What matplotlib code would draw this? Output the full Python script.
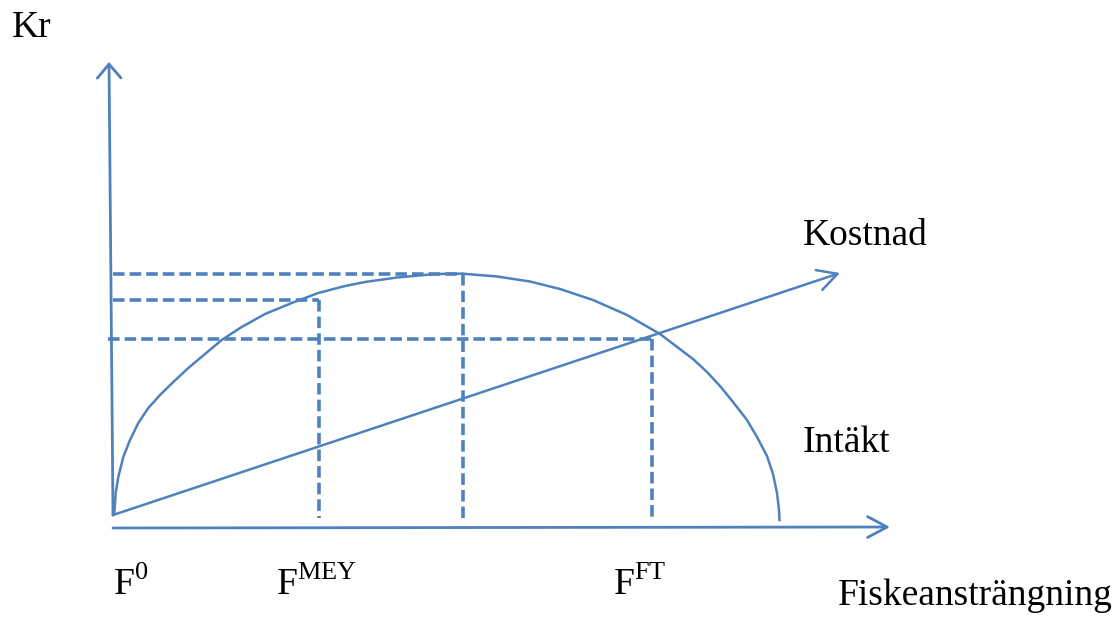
import matplotlib
matplotlib.use("Agg")
import matplotlib.pyplot as plt

plt.rcParams['font.family'] = ['Liberation Serif', 'DejaVu Serif']
plt.rcParams['mathtext.fontset'] = 'custom'
plt.rcParams['mathtext.rm'] = 'Liberation Serif'

# data (effort on x, kr on y)
revenue_x = [0, 1.3, 2.7, 5.3, 10.3, 17, 25.3, 35.3, 47, 60.3, 75.3, 92, 108.7, 128.7,
             152, 178.7, 205.3, 232, 252, 284, 317, 334, 350, 384, 417, 447, 480, 514,
             547, 580, 594, 607, 620, 634, 644, 654, 660, 664, 666, 666.5]
revenue_y = [0, 1.7, 22, 38, 58, 75, 92, 107, 120, 133, 147, 161, 175, 188,
             201, 212, 222, 229, 233, 237.5, 240.5, 241.3, 241.3, 238.5, 233.5, 226, 215, 200,
             181, 156, 143, 129, 113, 95, 78, 59, 41, 22, 5, -5]
cost_end = (727, 242)

# effort levels and the kr levels marked with dashed lines
f_levels = [350, 206, 539]
kr_levels = [241, 215, 176]
h_start = [0, 0, -5]
f_labels = ['F$^{\\mathrm{0}}$', 'F$^{\\mathrm{MEY}}$', 'F$^{\\mathrm{FT}}$']
f_label_x = [0, 163, 500]

blue = '#4F81BD'

fig = plt.figure(figsize=(11.16, 6.18), dpi=100)
ax = fig.add_axes([0, 0, 1, 1])
ax.set_xlim(-113, 1003)
ax.set_ylim(-103, 515)
ax.axis('off')

# axes as arrows
ax.annotate('', xy=(-4, 453), xytext=(0, 0),
            arrowprops=dict(arrowstyle='->,head_length=10,head_width=8.5', color=blue,
                            lw=2.0, shrinkA=0, shrinkB=0, mutation_scale=1))
ax.annotate('', xy=(777, -12), xytext=(0, -13),
            arrowprops=dict(arrowstyle='->,head_length=14,head_width=7.5', color=blue,
                            lw=2.0, shrinkA=0, shrinkB=0, mutation_scale=1))

# cost line
ax.annotate('', xy=cost_end, xytext=(0, 0),
            arrowprops=dict(arrowstyle='->,head_length=14,head_width=7.5', color=blue,
                            lw=1.8, shrinkA=0, shrinkB=0, mutation_scale=1))

# revenue curve
ax.plot(revenue_x, revenue_y, color=blue, lw=1.8, solid_joinstyle='round')

# dashed guide lines
for f, kr, x0 in zip(f_levels, kr_levels, h_start):
    ax.plot([x0, f], [kr, kr], color=blue, lw=2.6, linestyle=(0, (3.2, 1.4)))
    ax.plot([f, f], [kr, -3], color=blue, lw=2.6, linestyle=(0, (3.2, 1.4)))

fs = 27
ax.text(-101, 478, 'Kr', fontsize=fs, ha='left', va='baseline')
ax.text(690, 270, 'Kostnad', fontsize=fs, ha='left', va='baseline')
ax.text(690, 63, 'Intäkt', fontsize=fs, ha='left', va='baseline')
ax.text(725, -90, 'Fiskeansträngning', fontsize=fs, ha='left', va='baseline')
for lab, x in zip(f_labels, f_label_x):
    ax.text(x, -80, lab, fontsize=fs, ha='left', va='baseline')

fig.savefig('out.png', dpi=100)
